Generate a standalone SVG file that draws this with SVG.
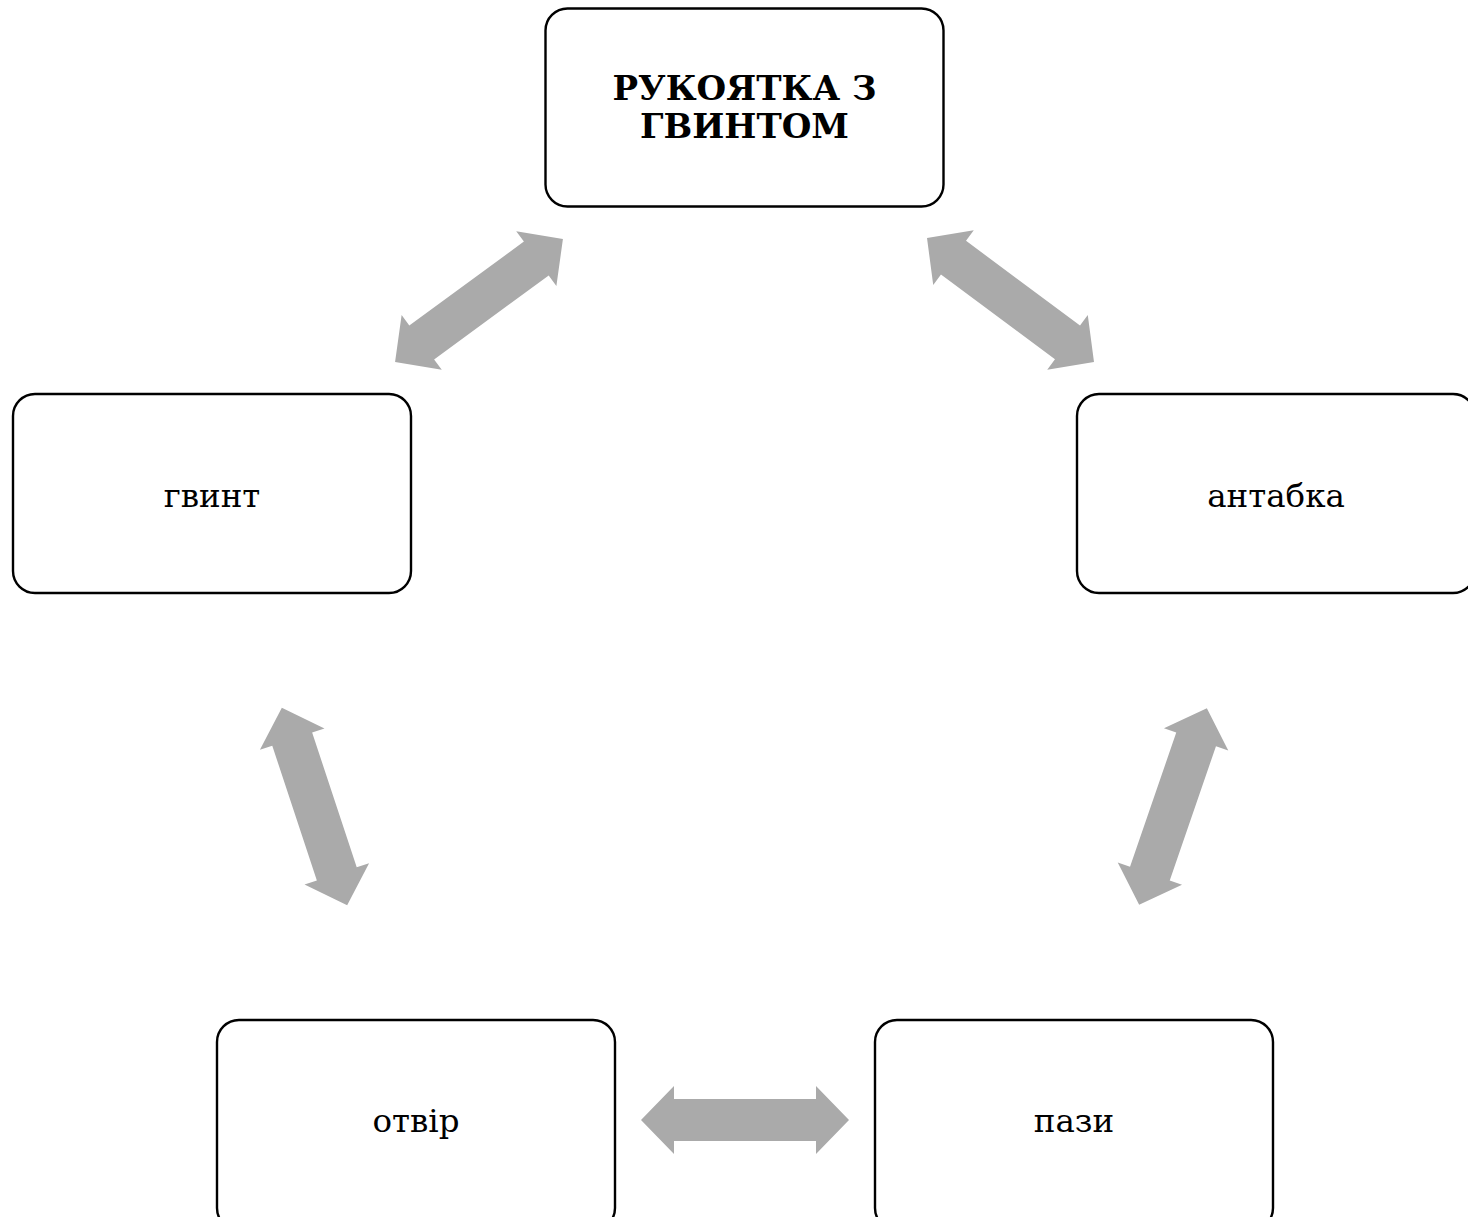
<svg xmlns="http://www.w3.org/2000/svg" width="1468" height="1217" viewBox="0 0 1468 1217">
<style>
.box{fill:#fff;stroke:#000;stroke-width:2.4}
.t{font-family:"DejaVu Serif","Liberation Serif",serif;font-size:32.5px;fill:#000;text-anchor:middle}
.tb{font-family:"DejaVu Serif","Liberation Serif",serif;font-size:34px;font-weight:bold;fill:#000;text-anchor:middle}
.arr{fill:#AAAAAA}
</style>
<defs>
<polygon id="dbl" points="-104,0 -71,-34 -71,-21 71,-21 71,-34 104,0 71,34 71,21 -71,21 -71,34"/>
</defs>
<rect width="1468" height="1217" fill="#fff"/>
<g id="connectors" class="arr">
<use href="#dbl" transform="translate(479,300.5) rotate(-36.2)"/>
<use href="#dbl" transform="translate(1010.5,300) rotate(36.6)"/>
<use href="#dbl" transform="translate(314.5,806.5) rotate(71.7)"/>
<use href="#dbl" transform="translate(1173,806.5) rotate(109)"/>
<use href="#dbl" transform="translate(745,1120)"/>
</g>
<g id="node-top">
<rect class="box" x="545.5" y="8.5" width="398" height="198" rx="22"/>
<text class="tb" x="744.5" y="100">РУКОЯТКА З</text>
<text class="tb" x="744.5" y="138">ГВИНТОМ</text>
</g>
<g id="node-gvynt">
<rect class="box" x="13" y="394" width="398" height="199" rx="22"/>
<text class="t" x="212" y="507">гвинт</text>
</g>
<g id="node-antabka">
<rect class="box" x="1077" y="394" width="398" height="199" rx="22"/>
<text class="t" x="1276" y="507">антабка</text>
</g>
<g id="node-otvir">
<rect class="box" x="217" y="1020" width="398" height="210" rx="22"/>
<text class="t" x="416" y="1132">отвір</text>
</g>
<g id="node-pazy">
<rect class="box" x="875" y="1020" width="398" height="210" rx="22"/>
<text class="t" x="1074" y="1132">пази</text>
</g>
</svg>
